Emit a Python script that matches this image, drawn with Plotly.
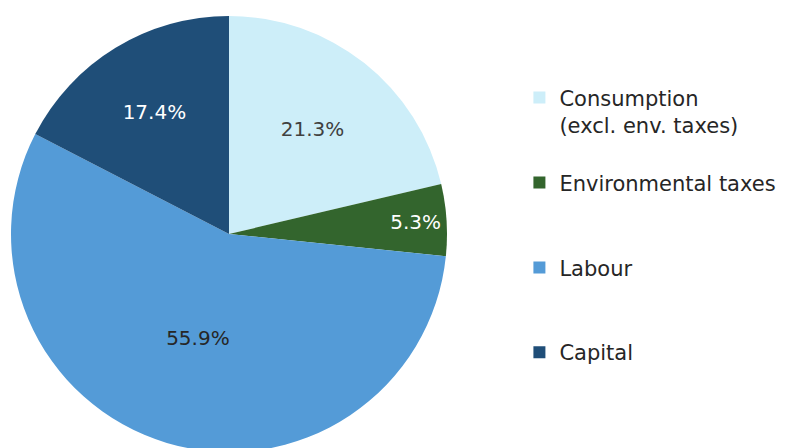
import plotly.graph_objects as go

# Tax revenue structure by economic function (share of total)
labels = [
    "Consumption<br>(excl. env. taxes)<br>&nbsp;",
    "Environmental taxes<br>&nbsp;<br>&nbsp;",
    "Labour<br>&nbsp;<br>&nbsp;",
    "Capital<br>&nbsp;<br>&nbsp;",
]
shares = [21.3, 5.3, 55.9, 17.4]
share_text = ["21.3%", "5.3%", "55.9%", "17.4%"]

colors = ["#CDEEF9", "#33652D", "#549BD7", "#1F4E78"]
text_colors = ["#404040", "#FFFFFF", "#262626", "#FFFFFF"]

W, H = 788, 448
# the page body adds an 8px offset, so the domain is shifted back by that much
OFF = 8

fig = go.Figure()

fig.add_trace(
    go.Pie(
        labels=labels,
        values=shares,
        text=share_text,
        textinfo="text",
        textposition="inside",
        insidetextorientation="horizontal",
        textfont=dict(color=text_colors, size=20),
        marker=dict(colors=colors, line=dict(width=0)),
        sort=False,
        direction="clockwise",
        rotation=0,
        hoverinfo="skip",
        domain=dict(
            x=[(11 - OFF) / W, (447 - OFF) / W],
            y=[(H - (16 - OFF) - 436) / H, (H - (16 - OFF)) / H],
        ),
    )
)

fig.update_layout(
    width=W,
    height=H,
    margin=dict(l=0, r=0, t=0, b=0),
    paper_bgcolor="white",
    font=dict(family="DejaVu Sans, Arial", color="#262626", size=20),
    legend=dict(
        x=0.649,
        y=0.845,
        xanchor="left",
        yanchor="top",
        valign="top",
        font=dict(size=21, color="#262626"),
        bgcolor="rgba(0,0,0,0)",
    ),
)

fig.write_html("out.html")
